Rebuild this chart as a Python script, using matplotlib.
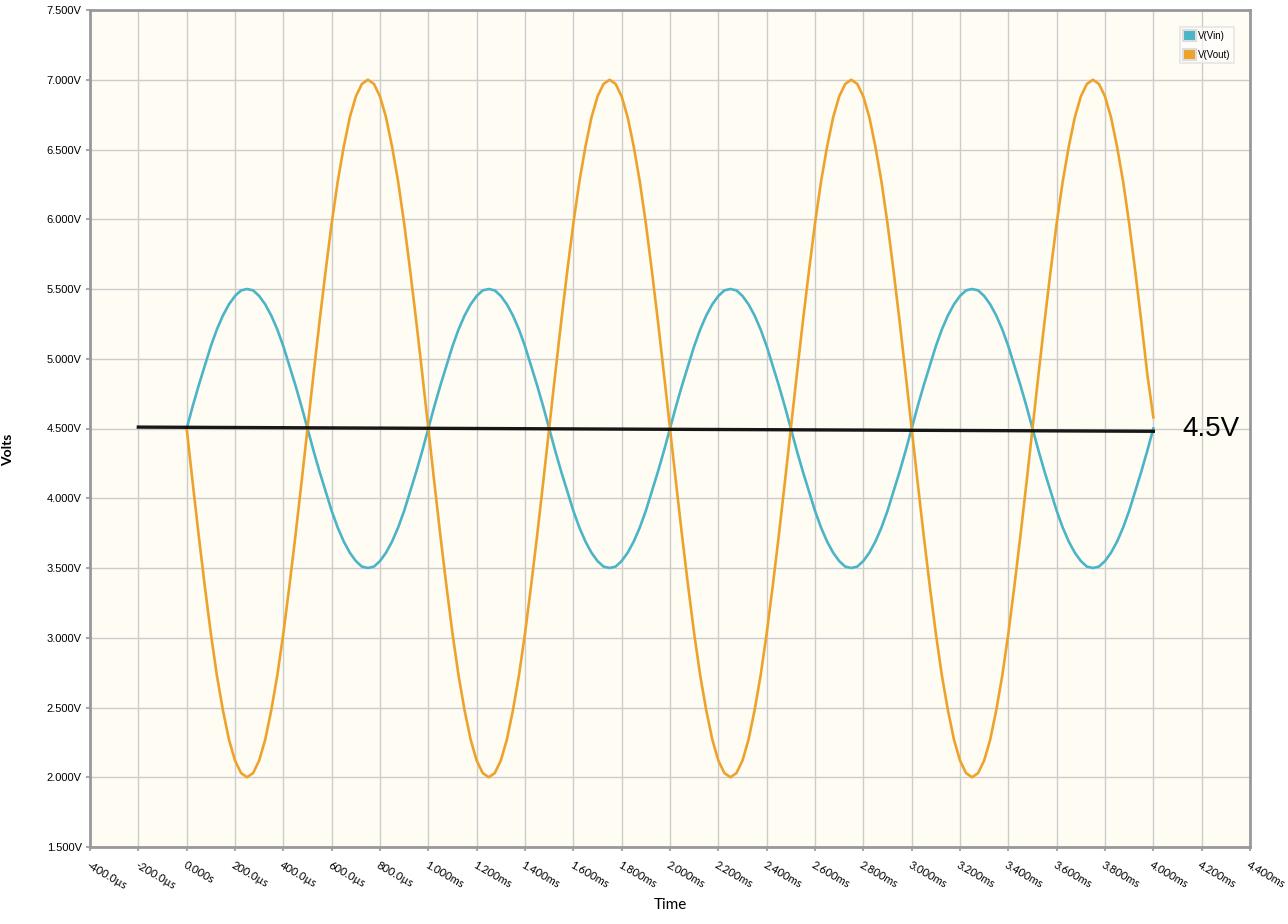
import numpy as np
import matplotlib
matplotlib.use("Agg")
import matplotlib.pyplot as plt
from matplotlib.patches import Patch

# sample times (ms), 25us step from 0 to 4ms
t_ms = np.arange(0, 161) * 0.025

# V(Vin), one row per period
v_in = [4.50, 4.66, 4.81, 4.95, 5.09, 5.21, 5.31, 5.39, 5.45, 5.49, 5.50, 5.49, 5.45, 5.39, 5.31, 5.21, 5.09, 4.95, 4.81, 4.66,
        4.50, 4.34, 4.19, 4.05, 3.91, 3.79, 3.69, 3.61, 3.55, 3.51, 3.50, 3.51, 3.55, 3.61, 3.69, 3.79, 3.91, 4.05, 4.19, 4.34,
        4.50, 4.66, 4.81, 4.95, 5.09, 5.21, 5.31, 5.39, 5.45, 5.49, 5.50, 5.49, 5.45, 5.39, 5.31, 5.21, 5.09, 4.95, 4.81, 4.66,
        4.50, 4.34, 4.19, 4.05, 3.91, 3.79, 3.69, 3.61, 3.55, 3.51, 3.50, 3.51, 3.55, 3.61, 3.69, 3.79, 3.91, 4.05, 4.19, 4.34,
        4.50, 4.66, 4.81, 4.95, 5.09, 5.21, 5.31, 5.39, 5.45, 5.49, 5.50, 5.49, 5.45, 5.39, 5.31, 5.21, 5.09, 4.95, 4.81, 4.66,
        4.50, 4.34, 4.19, 4.05, 3.91, 3.79, 3.69, 3.61, 3.55, 3.51, 3.50, 3.51, 3.55, 3.61, 3.69, 3.79, 3.91, 4.05, 4.19, 4.34,
        4.50, 4.66, 4.81, 4.95, 5.09, 5.21, 5.31, 5.39, 5.45, 5.49, 5.50, 5.49, 5.45, 5.39, 5.31, 5.21, 5.09, 4.95, 4.81, 4.66,
        4.50, 4.34, 4.19, 4.05, 3.91, 3.79, 3.69, 3.61, 3.55, 3.51, 3.50, 3.51, 3.55, 3.61, 3.69, 3.79, 3.91, 4.05, 4.19, 4.34,
        4.50]
# V(Vout)
v_out = [4.50, 4.11, 3.73, 3.37, 3.03, 2.73, 2.48, 2.27, 2.12, 2.03, 2.00, 2.03, 2.12, 2.27, 2.48, 2.73, 3.03, 3.37, 3.73, 4.11,
         4.50, 4.89, 5.27, 5.63, 5.97, 6.27, 6.52, 6.73, 6.88, 6.97, 7.00, 6.97, 6.88, 6.73, 6.52, 6.27, 5.97, 5.63, 5.27, 4.89,
         4.50, 4.11, 3.73, 3.37, 3.03, 2.73, 2.48, 2.27, 2.12, 2.03, 2.00, 2.03, 2.12, 2.27, 2.48, 2.73, 3.03, 3.37, 3.73, 4.11,
         4.50, 4.89, 5.27, 5.63, 5.97, 6.27, 6.52, 6.73, 6.88, 6.97, 7.00, 6.97, 6.88, 6.73, 6.52, 6.27, 5.97, 5.63, 5.27, 4.89,
         4.50, 4.11, 3.73, 3.37, 3.03, 2.73, 2.48, 2.27, 2.12, 2.03, 2.00, 2.03, 2.12, 2.27, 2.48, 2.73, 3.03, 3.37, 3.73, 4.11,
         4.50, 4.89, 5.27, 5.63, 5.97, 6.27, 6.52, 6.73, 6.88, 6.97, 7.00, 6.97, 6.88, 6.73, 6.52, 6.27, 5.97, 5.63, 5.27, 4.89,
         4.50, 4.11, 3.73, 3.37, 3.03, 2.73, 2.48, 2.27, 2.12, 2.03, 2.00, 2.03, 2.12, 2.27, 2.48, 2.73, 3.03, 3.37, 3.73, 4.11,
         4.50, 4.89, 5.27, 5.63, 5.97, 6.27, 6.52, 6.73, 6.88, 6.97, 7.00, 6.97, 6.88, 6.73, 6.52, 6.27, 5.97, 5.63, 5.27, 4.89,
         4.58]

# hand-drawn bias line
bias_t = [-0.2, 4.0]
bias_v = [4.51, 4.48]
bias_label = "4.5V"

x_ticks = [-0.4, -0.2, 0.0, 0.2, 0.4, 0.6, 0.8, 1.0, 1.2, 1.4, 1.6, 1.8, 2.0, 2.2,
           2.4, 2.6, 2.8, 3.0, 3.2, 3.4, 3.6, 3.8, 4.0, 4.2, 4.4]
x_labels = ["-400.0µs", "-200.0µs", "0.000s", "200.0µs", "400.0µs", "600.0µs", "800.0µs",
            "1.000ms", "1.200ms", "1.400ms", "1.600ms", "1.800ms", "2.000ms", "2.200ms",
            "2.400ms", "2.600ms", "2.800ms", "3.000ms", "3.200ms", "3.400ms", "3.600ms",
            "3.800ms", "4.000ms", "4.200ms", "4.400ms"]
y_ticks = [1.5, 2.0, 2.5, 3.0, 3.5, 4.0, 4.5, 5.0, 5.5, 6.0, 6.5, 7.0, 7.5]
y_labels = ["1.500V", "2.000V", "2.500V", "3.000V", "3.500V", "4.000V", "4.500V",
            "5.000V", "5.500V", "6.000V", "6.500V", "7.000V", "7.500V"]

c_in = "#4bb4c7"
c_out = "#eda32b"

fig = plt.figure(figsize=(12.88, 9.24), dpi=100)
ax = fig.add_axes([90 / 1288, 1 - 847 / 924, 1160 / 1288, 837 / 924])
ax.set_facecolor("#fffcf4")

ax.plot(t_ms, v_in, color=c_in, lw=1.9, zorder=3)
ax.plot(t_ms, v_out, color=c_out, lw=1.9, zorder=3)
ax.plot(bias_t, bias_v, color="black", lw=2.4, alpha=0.9, zorder=4)
ax.text(4.12, 4.5, bias_label, fontsize=20, family="Liberation Sans", va="center", ha="left")

ax.set_xlim(-0.4, 4.4)
ax.set_ylim(1.5, 7.5)
ax.set_xticks(x_ticks)
ax.set_xticklabels(x_labels, rotation=-30, ha="left", va="top", rotation_mode="anchor",
                   fontsize=8, family="Lato")
ax.set_yticks(y_ticks)
ax.set_yticklabels(y_labels, fontsize=8, family="Liberation Sans")
ax.tick_params(axis="both", color="#aaaaaa", length=3, width=1.5, pad=3)
ax.tick_params(axis="x", pad=6)
ax.grid(True, color="#cccccc", lw=1)
ax.set_axisbelow(True)
for s in ax.spines.values():
    s.set_color("#999999")
    s.set_linewidth(2)

fig.text(8 / 1288, 1 - 450 / 924, "Volts", rotation=90, ha="center", va="center",
         fontsize=10, fontweight="bold", family="Lato")
fig.text(670 / 1288, 1 - 905 / 924, "Time", ha="center", va="center", fontsize=11, family="Lato")

handles = [Patch(facecolor=c_in, edgecolor="#dddddd", lw=1.5, label="V(Vin)"),
           Patch(facecolor=c_out, edgecolor="#dddddd", lw=1.5, label="V(Vout)")]
leg = ax.legend(handles=handles, loc="upper right", bbox_to_anchor=(0.99, 0.986),
                handlelength=1.3, handleheight=1.3, handletextpad=0.2,
                labelspacing=0.9, borderpad=0.35, fancybox=False, framealpha=0.6,
                edgecolor="#dddddd", prop={"family": "Liberation Sans", "size": 7})
leg.get_frame().set_linewidth(1.5)

fig.savefig("out.png", dpi=100)
